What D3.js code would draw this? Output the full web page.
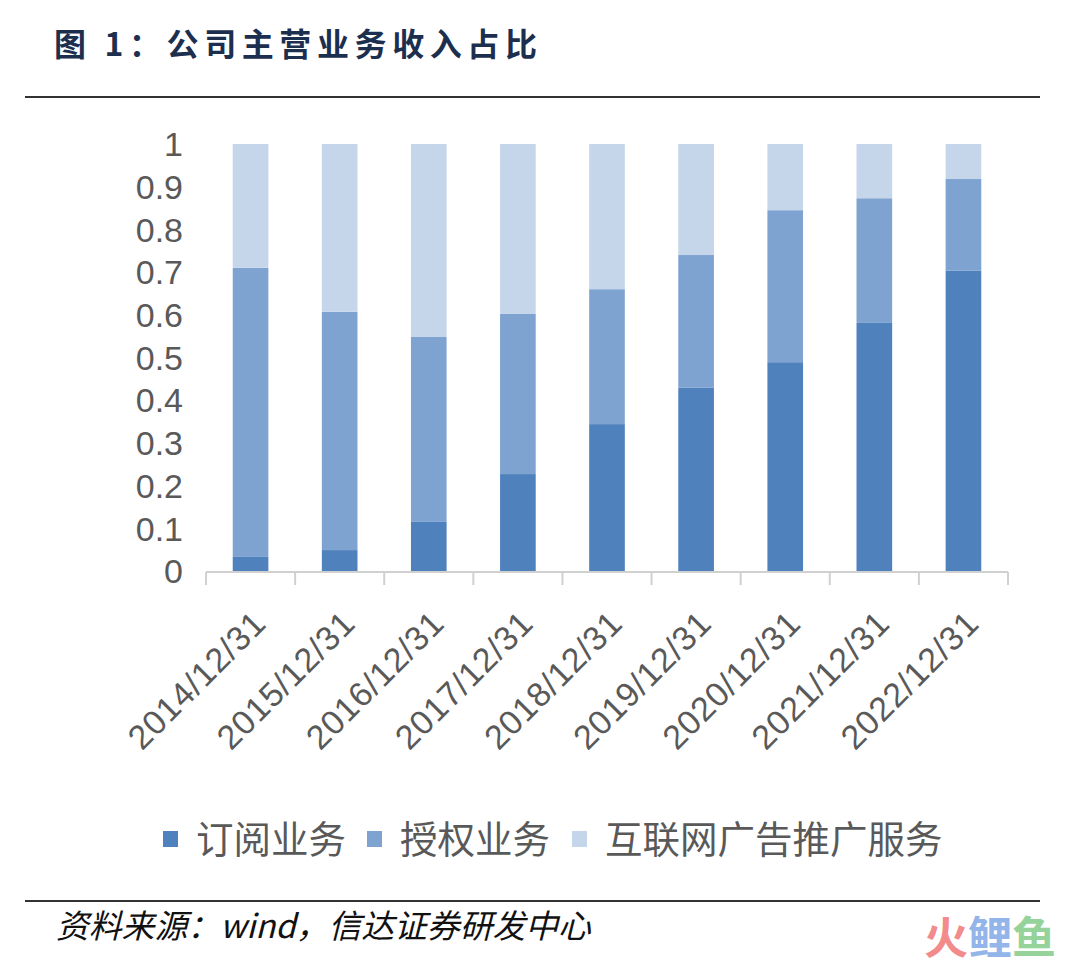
<!DOCTYPE html>
<html><head><meta charset="utf-8">
<script src="https://cdn.jsdelivr.net/npm/d3@7"></script>
<style>html,body{margin:0;padding:0;background:#fff;}svg{display:block;}</style>
</head><body>
<script>
const categories = ["2014/12/31","2015/12/31","2016/12/31","2017/12/31","2018/12/31","2019/12/31","2020/12/31","2021/12/31","2022/12/31"];
const seriesNames = ["订阅业务","授权业务","互联网广告推广服务"];
const subscription = [0.033,0.049,0.115,0.227,0.344,0.429,0.489,0.581,0.703];
const licensing    = [0.677,0.558,0.433,0.375,0.316,0.311,0.356,0.292,0.215];
const advertising  = [0.290,0.393,0.452,0.398,0.340,0.260,0.155,0.127,0.082];
const yTicks = [0,0.1,0.2,0.3,0.4,0.5,0.6,0.7,0.8,0.9,1];
const colors = ["#4f81bd","#7fa3d1","#c5d6ea"];

const W = 1080, H = 966;
const svg = d3.select("body").append("svg").attr("width",W).attr("height",H);
const cjk = "'Noto Sans CJK SC','Noto Sans',sans-serif";

// title
svg.append("text").attr("x",54).attr("y",56)
  .attr("font-family",cjk).attr("font-weight","bold").attr("font-size",32)
  .attr("letter-spacing",5.6)
  .attr("fill","#1c2f4f").text("图 1：公司主营业务收入占比");
svg.append("line").attr("x1",25).attr("x2",1040).attr("y1",97).attr("y2",97)
  .attr("stroke","#333").attr("stroke-width",2);

const x = d3.scaleBand().domain(categories).range([206,1008]).paddingInner(0.6).paddingOuter(0.3);
const y = d3.scaleLinear().domain([0,1]).range([571,144]);

const rows = categories.map((c,i)=>({cat:c, s0:subscription[i], s1:licensing[i], s2:advertising[i]}));
const stack = d3.stack().keys(["s0","s1","s2"]);
const layers = stack(rows);

svg.append("g").selectAll("g").data(layers).join("g")
  .attr("fill",(d,i)=>colors[i])
  .selectAll("rect").data(d=>d).join("rect")
  .attr("x",d=>x(d.data.cat)).attr("width",x.bandwidth())
  .attr("y",d=>y(Math.min(1,d[1]))).attr("height",d=>y(d[0])-y(Math.min(1,d[1])));

// y labels
svg.append("g").selectAll("text").data(yTicks).join("text")
  .attr("x",183).attr("y",d=>y(d)).attr("dy","0.36em")
  .attr("text-anchor","end").attr("font-family","'Liberation Sans',Arial,sans-serif")
  .attr("font-size",34).attr("fill","#595959").text(d=>d===0?"0":d===1?"1":d3.format(".1f")(d));

// x axis line and ticks
const axisG = svg.append("g");
axisG.append("line").attr("x1",206).attr("x2",1008).attr("y1",572).attr("y2",572)
  .attr("stroke","#d0d0d0").attr("stroke-width",2);
const step = x.step();
const tickPos = d3.range(categories.length+1).map(i=>206+i*step);
axisG.selectAll("line.t").data(tickPos).join("line").attr("class","t")
  .attr("x1",d=>d).attr("x2",d=>d).attr("y1",572).attr("y2",585)
  .attr("stroke","#d0d0d0").attr("stroke-width",2);

// x labels
svg.append("g").selectAll("text").data(categories).join("text")
  .attr("transform",d=>`translate(${x(d)+x.bandwidth()/2+9},${617}) rotate(-45)`)
  .attr("text-anchor","end").attr("dy","0.35em")
  .attr("font-family","'Liberation Sans',Arial,sans-serif").attr("font-size",34)
  .attr("letter-spacing",0.8)
  .attr("fill","#595959").text(d=>d);

// legend
const legendX = [163,367,572];
const lg = svg.append("g");
seriesNames.forEach((n,i)=>{
  lg.append("rect").attr("x",legendX[i]).attr("y",831).attr("width",15).attr("height",16).attr("fill",colors[i]);
  lg.append("text").attr("x",legendX[i]+33).attr("y",839).attr("dy","0.36em")
    .attr("font-family",cjk).attr("font-size",37.5).attr("fill","#595959").text(n);
});

// footer
svg.append("line").attr("x1",25).attr("x2",1040).attr("y1",901).attr("y2",901)
  .attr("stroke","#333").attr("stroke-width",2);
svg.append("text").attr("x",56).attr("y",938)
  .attr("font-family",cjk).attr("font-style","italic").attr("font-size",32.8)
  .attr("fill","#111").text("资料来源：wind，信达证券研发中心");

// watermark
const wm = svg.append("text").attr("x",924).attr("y",954).attr("font-family",cjk)
  .attr("font-weight","bold").attr("font-size",44);
wm.append("tspan").attr("fill","#f28b8b").text("火");
wm.append("tspan").attr("fill","#93b5ea").text("鲤");
wm.append("tspan").attr("fill","#95d39a").text("鱼");
</script>
</body></html>
